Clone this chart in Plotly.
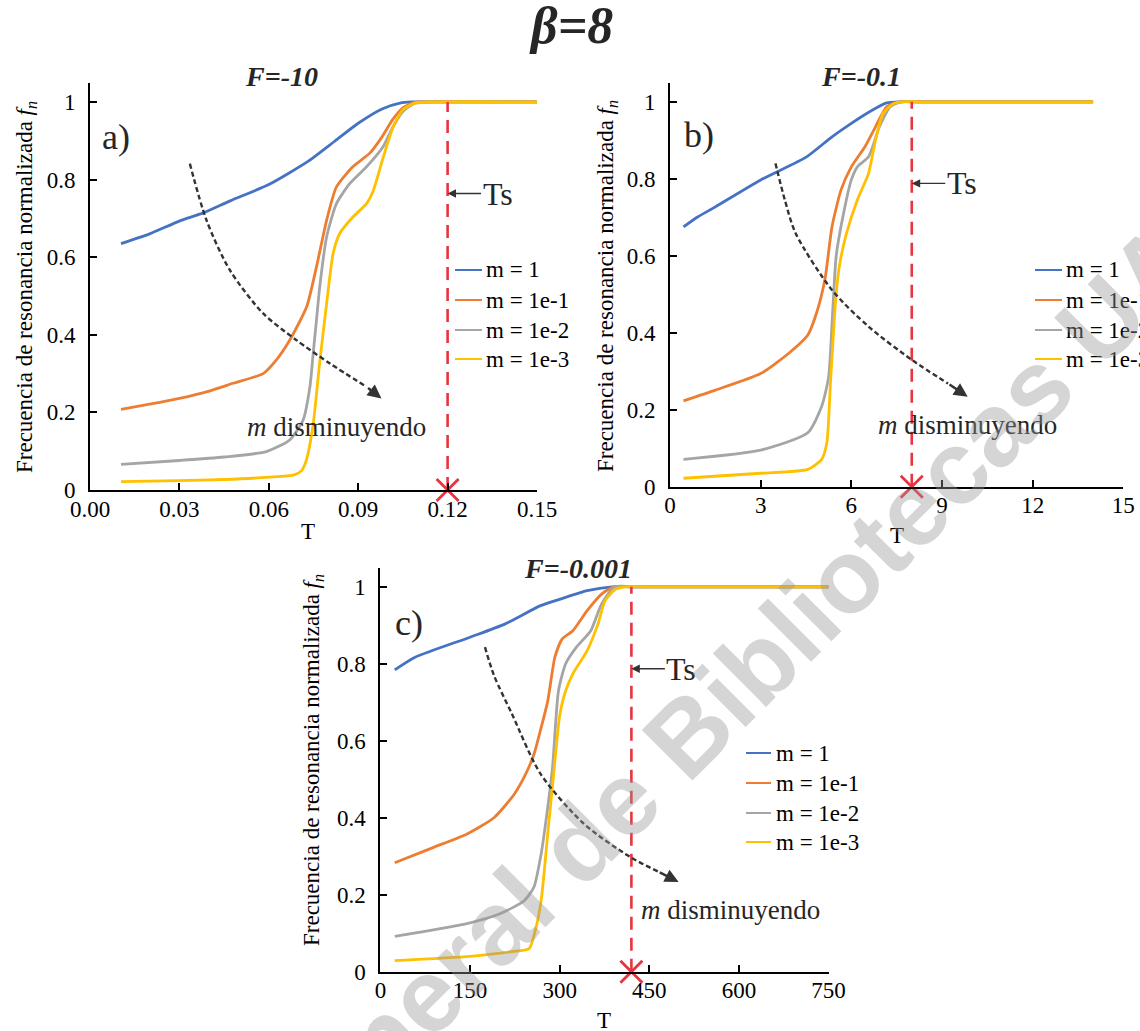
import plotly.graph_objects as go

W, H = 1140, 1031

SERIES_NAMES = ["m = 1", "m = 1e-1", "m = 1e-2", "m = 1e-3"]
SERIES_COLORS = ["#4472C4", "#ED7D31", "#A5A5A5", "#FFC000"]

# ---- panel a)  F = -10 ----
t_a_m1 = [0.0104, 0.02, 0.03, 0.038, 0.047, 0.06, 0.0734, 0.082, 0.09, 0.098, 0.104, 0.108, 0.114, 0.15]
fn_a_m1 = [0.635, 0.66, 0.693, 0.714, 0.745, 0.787, 0.848, 0.898, 0.945, 0.982, 0.997, 1.0, 1.0, 1.0]
t_a_m2 = [0.0104, 0.02, 0.03, 0.04, 0.048, 0.0581, 0.062, 0.067, 0.0727, 0.076, 0.0794, 0.0827,
          0.0882, 0.0939, 0.098, 0.1016, 0.105, 0.109, 0.115, 0.15]
fn_a_m2 = [0.208, 0.221, 0.236, 0.255, 0.275, 0.30, 0.33, 0.386, 0.472, 0.575, 0.695, 0.781,
           0.833, 0.868, 0.91, 0.955, 0.985, 0.999, 1.0, 1.0]
t_a_m3 = [0.0104, 0.03, 0.045, 0.0592, 0.067, 0.0715, 0.0738, 0.0749, 0.076, 0.0771, 0.0794, 0.0827,
          0.0872, 0.0928, 0.0983, 0.1017, 0.105, 0.109, 0.115, 0.15]
fn_a_m3 = [0.066, 0.076, 0.085, 0.099, 0.129, 0.18, 0.266, 0.352, 0.438, 0.524, 0.652, 0.738,
           0.79, 0.833, 0.884, 0.936, 0.975, 0.997, 1.0, 1.0]
t_a_m4 = [0.0104, 0.03, 0.045, 0.06, 0.0685, 0.071, 0.0726, 0.0749, 0.0771, 0.0794, 0.0816, 0.0838,
          0.0883, 0.0928, 0.095, 0.0985, 0.1017, 0.105, 0.109, 0.115, 0.15]
fn_a_m4 = [0.0215, 0.024, 0.027, 0.033, 0.039, 0.05, 0.077, 0.17, 0.33, 0.48, 0.61, 0.661,
           0.704, 0.738, 0.77, 0.86, 0.935, 0.98, 0.997, 1.0, 1.0]

# ---- panel b)  F = -0.1 ----
t_b_m1 = [0.446, 0.9, 1.5, 3.0, 4.52, 5.36, 6.0, 6.69, 7.17, 7.6, 8.2, 14.0]
fn_b_m1 = [0.675, 0.70, 0.727, 0.797, 0.857, 0.909, 0.944, 0.978, 0.997, 1.0, 1.0, 1.0]
t_b_m2 = [0.446, 1.5, 3.0, 3.92, 4.56, 4.88, 5.13, 5.36, 5.66, 6.0, 6.45, 6.8, 7.17, 7.6, 8.2, 14.0]
fn_b_m2 = [0.223, 0.251, 0.294, 0.346, 0.394, 0.459, 0.54, 0.675, 0.771, 0.831, 0.883, 0.935, 0.987,
           1.0, 1.0, 1.0]
t_b_m3 = [0.446, 3.0, 4.56, 5.02, 5.25, 5.38, 5.5, 5.72, 6.0, 6.2, 6.57, 6.93, 7.29, 7.65, 8.2, 14.0]
fn_b_m3 = [0.071, 0.095, 0.14, 0.209, 0.286, 0.45, 0.6, 0.701, 0.797, 0.831, 0.857, 0.935, 0.987,
           1.0, 1.0, 1.0]
t_b_m4 = [0.446, 3.0, 4.56, 5.02, 5.19, 5.31, 5.48, 5.6, 5.84, 6.2, 6.57, 6.8, 7.05, 7.41, 7.7, 8.3, 14.0]
fn_b_m4 = [0.022, 0.035, 0.045, 0.071, 0.114, 0.269, 0.484, 0.571, 0.658, 0.745, 0.814, 0.900,
           0.970, 0.996, 1.0, 1.0, 1.0]

# ---- panel c)  F = -0.001 ----
t_c_m1 = [24, 58, 150, 208, 268, 301, 346, 388, 420, 750]
fn_c_m1 = [0.784, 0.817, 0.869, 0.903, 0.951, 0.968, 0.99, 1.0, 1.0, 1.0]
t_c_m2 = [24, 89, 145, 190, 224, 243, 257, 269, 280, 292, 304, 322, 346, 370, 390, 420, 750]
fn_c_m2 = [0.283, 0.323, 0.358, 0.40, 0.461, 0.513, 0.565, 0.634, 0.703, 0.817, 0.864, 0.886,
           0.938, 0.981, 1.0, 1.0, 1.0]
t_c_m3 = [24, 145, 201, 241, 257, 269, 280, 288, 298, 310, 328, 352, 370, 392, 425, 750]
fn_c_m3 = [0.092, 0.125, 0.151, 0.185, 0.22, 0.306, 0.427, 0.53, 0.730, 0.8, 0.843, 0.886, 0.955,
           1.0, 1.0, 1.0]
t_c_m4 = [24, 150, 220, 249, 258, 269, 280, 291, 300, 310, 322, 346, 364, 376, 394, 410, 440, 750]
fn_c_m4 = [0.029, 0.040, 0.052, 0.06, 0.1, 0.185, 0.358, 0.53, 0.665, 0.73, 0.774, 0.834,
           0.903, 0.964, 0.994, 1.0, 1.0, 1.0]

# saturation temperature Ts of each panel
TS_A, TS_B, TS_C = 0.12, 8, 420

# "m decreasing" guide curves (last entry is the arrow tip)
guide_a_t = [0.0335, 0.0391, 0.0469, 0.0581, 0.0693, 0.0805, 0.0928, 0.0978]
guide_a_f = [0.841, 0.695, 0.567, 0.455, 0.386, 0.326, 0.266, 0.236]
guide_b_t = [3.49, 3.8, 4.16, 5.36, 6.57, 8.01, 9.2, 9.85]
guide_b_f = [0.84, 0.745, 0.658, 0.511, 0.416, 0.329, 0.268, 0.234]
guide_c_t = [175, 190, 220, 268, 340, 418, 465, 499]
guide_c_f = [0.843, 0.77, 0.67, 0.514, 0.385, 0.298, 0.26, 0.233]

# axis ticks
x_ticks_a = [0, 0.03, 0.06, 0.09, 0.12, 0.15]
x_ticks_b = [0, 3, 6, 9, 12, 15]
x_ticks_c = [0, 150, 300, 450, 600, 750]
y_ticks = [0, 0.2, 0.4, 0.6, 0.8, 1]

SERIF = "Liberation Serif"
RED = "#E8343E"
DARK = "#333333"


def px(x):
    return x / W


def py(y):
    return 1 - y / H


def paper_text(x, y, text, size, color="#000000", **kw):
    d = dict(x=px(x), y=py(y), xref="paper", yref="paper", text=text, showarrow=False,
             xanchor="center", yanchor="middle",
             font=dict(family=SERIF, size=size, color=color))
    d.update(kw)
    return d


fig = go.Figure()

panels = [
    dict(ax="", xr=[0, 0.15], xt=x_ticks_a, fmt="{:.2f}",
         dom_x=(90, 537), dom_y=(490, 83.3),
         t=[t_a_m1, t_a_m2, t_a_m3, t_a_m4], f=[fn_a_m1, fn_a_m2, fn_a_m3, fn_a_m4],
         ts=TS_A, ts_y=0.764, gt=guide_a_t, gf=guide_a_f, md=(0.0828, 0.163),
         letter="a)", letter_xy=(116, 137), sub="F=-10", sub_xy=(281, 77),
         ytitle_xy=(26, 287), xtitle_xy=(308, 531),
         key_x=(455, 482, 484), key_y=[270, 300, 330, 359]),
    dict(ax="2", xr=[0, 15], xt=x_ticks_b, fmt="{:g}",
         dom_x=(670, 1123.3), dom_y=(486.7, 83.3),
         t=[t_b_m1, t_b_m2, t_b_m3, t_b_m4], f=[fn_b_m1, fn_b_m2, fn_b_m3, fn_b_m4],
         ts=TS_B, ts_y=0.788, gt=guide_b_t, gf=guide_b_f, md=(9.86, 0.16),
         letter="b)", letter_xy=(699, 135), sub="F=-0.1", sub_xy=(861, 77),
         ytitle_xy=(607, 286), xtitle_xy=(897, 535),
         key_x=(1035, 1062, 1064), key_y=[270, 300, 330, 359]),
    dict(ax="3", xr=[0, 750], xt=x_ticks_c, fmt="{:g}",
         dom_x=(380.4, 828.6), dom_y=(971.7, 568.3),
         t=[t_c_m1, t_c_m2, t_c_m3, t_c_m4], f=[fn_c_m1, fn_c_m2, fn_c_m3, fn_c_m4],
         ts=TS_C, ts_y=0.787, gt=guide_c_t, gf=guide_c_f, md=(585, 0.16),
         letter="c)", letter_xy=(409, 623), sub="F=-0.001", sub_xy=(578, 568),
         ytitle_xy=(313, 760), xtitle_xy=(604, 1020),
         key_x=(746, 771, 774), key_y=[753, 783, 813, 842]),
]

annotations = []
shapes = []
layout_axes = {}

for p in panels:
    xa, ya = "x" + p["ax"], "y" + p["ax"]
    # measured curves
    for tv, fv, name, col in zip(p["t"], p["f"], SERIES_NAMES, SERIES_COLORS):
        fig.add_trace(go.Scatter(x=tv, y=fv, name=name, mode="lines", xaxis=xa, yaxis=ya,
                                 line=dict(color=col, width=2.8, shape="spline", smoothing=0.6),
                                 showlegend=False))
    # Ts marker line and cross
    fig.add_trace(go.Scatter(x=[p["ts"], p["ts"]], y=[0, 1], mode="lines", xaxis=xa, yaxis=ya,
                             line=dict(color=RED, width=2.6, dash="13px,8px"),
                             showlegend=False, hoverinfo="skip"))
    fig.add_trace(go.Scatter(x=[p["ts"]], y=[0], mode="markers", xaxis=xa, yaxis=ya,
                             marker=dict(symbol="x-thin", size=22,
                                         line=dict(color=RED, width=2.8)),
                             cliponaxis=False, showlegend=False, hoverinfo="skip"))
    # dashed guide curve with arrow head at its tip
    fig.add_trace(go.Scatter(x=p["gt"][:-1], y=p["gf"][:-1], mode="lines", xaxis=xa, yaxis=ya,
                             line=dict(color=DARK, width=2.4, dash="5px,3px",
                                       shape="spline", smoothing=0.8),
                             showlegend=False, hoverinfo="skip"))
    annotations.append(dict(x=p["gt"][-1], y=p["gf"][-1], xref=xa, yref=ya,
                            ax=p["gt"][-2], ay=p["gf"][-2], axref=xa, ayref=ya,
                            text="", showarrow=True, arrowhead=2, arrowsize=1.1,
                            arrowwidth=2.5, arrowcolor=DARK, standoff=0, startstandoff=0))
    annotations.append(dict(x=p["md"][0], y=p["md"][1], xref=xa, yref=ya,
                            text="<i>m</i> disminuyendo", showarrow=False,
                            xanchor="center", yanchor="middle",
                            font=dict(family=SERIF, size=27, color="#262626")))
    # Ts label
    annotations.append(dict(x=p["ts"], y=p["ts_y"], xref=xa, yref=ya, text="Ts",
                            showarrow=True, ax=50, ay=0, arrowhead=2, arrowsize=1.2,
                            arrowwidth=1.4, arrowcolor=DARK, standoff=0,
                            font=dict(family=SERIF, size=32, color="#262626")))
    # panel letter, subtitle, axis titles
    annotations.append(paper_text(*p["letter_xy"], p["letter"], 36, "#262626"))
    annotations.append(paper_text(*p["sub_xy"], "<b><i>" + p["sub"] + "</i></b>", 28, "#262626"))
    annotations.append(paper_text(*p["ytitle_xy"],
                                  "Frecuencia de resonancia normalizada <i>f</i><sub><i>n</i></sub>",
                                  23, textangle=-90))
    annotations.append(paper_text(*p["xtitle_xy"], "T", 23))
    # series key
    kx0, kx1, ktx = p["key_x"]
    for ky, name, col in zip(p["key_y"], SERIES_NAMES, SERIES_COLORS):
        shapes.append(dict(type="line", xref="paper", yref="paper", x0=px(kx0), x1=px(kx1),
                           y0=py(ky), y1=py(ky), line=dict(color=col, width=2)))
        annotations.append(paper_text(ktx, ky, name, 23, xanchor="left"))

    axis_common = dict(showline=True, linecolor="#000000", linewidth=2, showgrid=False,
                       zeroline=False, ticks="inside", ticklen=7, tickwidth=2,
                       tickcolor="#000000", tickfont=dict(family=SERIF, size=23, color="#000000"))
    xkey = "xaxis" + p["ax"]
    ykey = "yaxis" + p["ax"]
    layout_axes[xkey] = dict(axis_common, domain=[px(p["dom_x"][0]), px(p["dom_x"][1])],
                             range=p["xr"], anchor=ya, tickmode="array", tickvals=p["xt"],
                             ticktext=[p["fmt"].format(v) for v in p["xt"]],
                             ticklabelstandoff=-3)
    layout_axes[ykey] = dict(axis_common, domain=[py(p["dom_y"][0]), py(p["dom_y"][1])],
                             range=[0, 1.048], anchor=xa, tickmode="array", tickvals=y_ticks,
                             ticktext=["{:g}".format(v) for v in y_ticks],
                             ticklabelstandoff=8)

# main title
annotations.append(paper_text(571, 25, "<b><i>β=8</i></b>", 52, "#262626"))
# repository watermark
annotations.append(dict(x=px(572), y=py(850), xref="paper", yref="paper",
                        xanchor="center", yanchor="middle",
                        text="<b>Dirección General de Bibliotecas UAQ</b>", textangle=-45,
                        showarrow=False,
                        font=dict(family="Liberation Sans", size=104,
                                  color="rgba(150,150,150,0.4)")))

fig.update_layout(width=W, height=H, margin=dict(l=0, r=0, t=0, b=0, autoexpand=False),
                  paper_bgcolor="white", plot_bgcolor="white", showlegend=False,
                  annotations=annotations, shapes=shapes, **layout_axes)

fig.write_html("out.html")
